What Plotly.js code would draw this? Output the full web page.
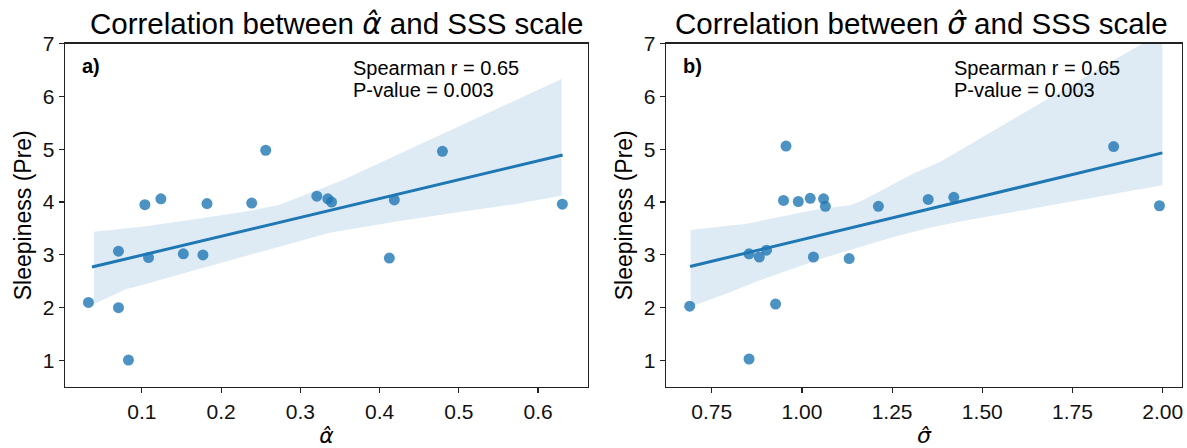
<!DOCTYPE html>
<html>
<head>
<meta charset="utf-8">
<script src="https://cdn.plot.ly/plotly-3.0.1.min.js"></script>
<style>
  html, body { margin: 0; padding: 0; background: #fff; overflow: hidden; }
  #chart { width: 1187px; height: 448px; }
</style>
</head>
<body>
<div id="chart"></div>
<script>
// Panel a): alpha-hat estimates vs. pre-session sleepiness (SSS)
const alphaHat = [0.0326, 0.0705, 0.0705, 0.0831, 0.1038, 0.1084, 0.1240, 0.1523, 0.1771, 0.1822,
                  0.2386, 0.2563, 0.3208, 0.3347, 0.3394, 0.4123, 0.4186, 0.4793, 0.6306];
const sssA     = [2.10, 3.07, 2.00, 1.01, 3.95, 2.95, 4.06, 3.02, 3.00, 3.97,
                  3.98, 4.98, 4.11, 4.06, 4.00, 2.94, 4.04, 4.96, 3.96];

// Panel b): sigma-hat estimates vs. pre-session sleepiness (SSS)
const sigmaHat = [0.689, 0.8535, 0.8535, 0.882, 0.902, 0.927, 0.949, 0.956, 0.990, 1.023,
                  1.032, 1.060, 1.065, 1.131, 1.212, 1.350, 1.421, 1.864, 1.991];
const sssB     = [2.03, 1.03, 3.02, 2.96, 3.09, 2.07, 4.03, 5.06, 4.01, 4.07,
                  2.96, 4.06, 3.92, 2.93, 3.92, 4.05, 4.09, 5.05, 3.93];

// Regression lines (end points)
const fitAX = [0.037, 0.631], fitAY = [2.77, 4.89];
const fitBX = [0.690, 1.999], fitBY = [2.78, 4.93];

// 95% confidence bands
const bandAUpX = [0.0397, 0.1051, 0.1472, 0.1893, 0.2315, 0.2736, 0.3157, 0.3494, 0.40, 0.50, 0.57, 0.6297];
const bandAUpY = [3.44, 3.54, 3.63, 3.73, 3.82, 3.95, 4.20, 4.39, 4.74, 5.43, 5.91, 6.33];
const bandALoX = [0.0397, 0.0798, 0.1051, 0.1472, 0.1893, 0.2315, 0.2736, 0.3368, 0.4211, 0.5053, 0.57, 0.6297];
const bandALoY = [2.07, 2.35, 2.45, 2.63, 2.81, 2.99, 3.16, 3.42, 3.63, 3.82, 3.96, 4.12];

const bandBUpX = [0.6918, 0.847, 1.0318, 1.1334, 1.1704, 1.3089, 1.3829, 1.4383, 1.5307, 1.6231, 1.7154, 1.8078, 1.9002, 1.999];
const bandBUpY = [3.47, 3.59, 3.85, 3.94, 4.04, 4.54, 4.76, 4.98, 5.35, 5.71, 6.08, 6.45, 6.82, 7.22];
const bandBLoX = [0.6918, 0.7916, 0.884, 0.9763, 1.0687, 1.1611, 1.2535, 1.3459, 1.4383, 1.5307, 1.6231, 1.7154, 1.8078, 1.9002, 1.999];
const bandBLoY = [2.02, 2.27, 2.52, 2.74, 2.96, 3.15, 3.34, 3.50, 3.63, 3.74, 3.86, 3.97, 4.09, 4.20, 4.32];

// Axis ticks
const sssTicks = [1, 2, 3, 4, 5, 6, 7];
const alphaTicks = [0.1, 0.2, 0.3, 0.4, 0.5, 0.6];
const sigmaTicks = [0.75, 1.00, 1.25, 1.50, 1.75, 2.00];

const BLUE = '#1f77b4';
const FONT = 'Liberation Sans, Arial, Helvetica, sans-serif';
const W = 1187, H = 448;

// Math-style symbols with a hat (oblique DejaVu, as in mathtext)
const hatSym = s => '<span style="font-family:DejaVu Sans;font-style:italic">' + s + '\u0302</span>';
const ALPHA_HAT = hatSym('α');
const SIGMA_HAT = hatSym('σ');

function band(upX, upY, loX, loY, xa, ya) {
  return {
    x: upX.concat(loX.slice().reverse()),
    y: upY.concat(loY.slice().reverse()),
    xaxis: xa, yaxis: ya,
    type: 'scatter', mode: 'lines', fill: 'toself',
    fillcolor: 'rgba(31,119,180,0.15)', line: { width: 0 }, hoverinfo: 'skip'
  };
}
function fit(x, y, xa, ya) {
  return { x: x, y: y, xaxis: xa, yaxis: ya, type: 'scatter', mode: 'lines',
           line: { color: BLUE, width: 3 } };
}
function pts(x, y, xa, ya) {
  return { x: x, y: y, xaxis: xa, yaxis: ya, type: 'scatter', mode: 'markers',
           marker: { color: BLUE, opacity: 0.8, size: 11, line: { width: 0 } }, cliponaxis: false };
}

const data = [
  band(bandAUpX, bandAUpY, bandALoX, bandALoY, 'x', 'y'),
  pts(alphaHat, sssA, 'x', 'y'),
  fit(fitAX, fitAY, 'x', 'y'),
  band(bandBUpX, bandBUpY, bandBLoX, bandBLoY, 'x2', 'y2'),
  pts(sigmaHat, sssB, 'x2', 'y2'),
  fit(fitBX, fitBY, 'x2', 'y2')
];

const axisStyle = {
  showline: true, mirror: true, linecolor: '#222', linewidth: 1.3,
  ticks: 'outside', ticklen: 5, tickwidth: 1.2, tickcolor: '#222',
  showgrid: false, zeroline: false, tickfont: { size: 21, color: '#111' }
};
const yDom = [61 / H, 404.5 / H];

const px = v => v / W;
const py = v => (H - v) / H;

function note(text, x, y, size, opts) {
  return Object.assign({ text: text, xref: 'paper', yref: 'paper', x: px(x), y: py(y),
    xanchor: 'left', yanchor: 'middle', showarrow: false,
    font: { size: size, color: '#000', family: FONT } }, opts || {});
}

const layout = {
  width: W, height: H,
  margin: { l: 0, r: 0, t: 0, b: 0 },
  paper_bgcolor: '#fff', plot_bgcolor: '#fff',
  showlegend: false,
  font: { family: FONT, color: '#000' },
  xaxis: Object.assign({}, axisStyle, {
    domain: [65 / W, 588 / W], range: [0.003, 0.663], tickvals: alphaTicks,
    ticktext: alphaTicks.map(v => v.toFixed(1)), anchor: 'y',
    title: { text: ALPHA_HAT, font: { size: 22 }, standoff: 6 }
  }),
  yaxis: Object.assign({}, axisStyle, {
    domain: yDom, range: [0.5, 7], tickvals: sssTicks, anchor: 'x',
    title: { text: 'Sleepiness (Pre)', font: { size: 23 }, standoff: 4 }
  }),
  xaxis2: Object.assign({}, axisStyle, {
    domain: [666 / W, 1182 / W], range: [0.6233, 2.0535], tickvals: sigmaTicks,
    ticktext: sigmaTicks.map(v => v.toFixed(2)), anchor: 'y2',
    title: { text: SIGMA_HAT, font: { size: 22 }, standoff: 6 }
  }),
  yaxis2: Object.assign({}, axisStyle, {
    domain: yDom, range: [0.5, 7], tickvals: sssTicks, anchor: 'x2',
    title: { text: 'Sleepiness (Pre)', font: { size: 23 }, standoff: 4 }
  }),
  annotations: [
    note('Correlation between ' + ALPHA_HAT + ' and SSS scale', 336, 24, 29.5, { xanchor: 'center' }),
    note('Correlation between ' + SIGMA_HAT + ' and SSS scale', 921, 24, 29.5, { xanchor: 'center' }),
    note('<b>a)</b>', 80, 66, 20),
    note('<b>b)</b>', 681, 66, 20),
    note('Spearman r = 0.65', 351, 68, 20),
    note('P-value = 0.003', 351, 90, 20),
    note('Spearman r = 0.65', 952, 68, 20),
    note('P-value = 0.003', 952, 90, 20)
  ]
};

Plotly.newPlot('chart', data, layout, { displayModeBar: false, staticPlot: true });
</script>
</body>
</html>
